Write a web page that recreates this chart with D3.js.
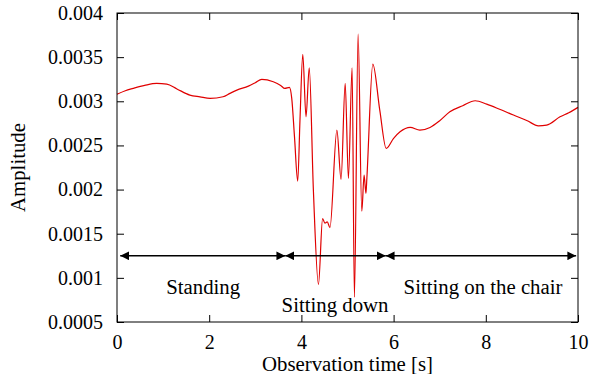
<!DOCTYPE html>
<html>
<head>
<meta charset="utf-8">
<script src="https://cdn.jsdelivr.net/npm/d3@7"></script>
<style>
  body { margin: 0; background: #fff; }
  svg { display: block; font-family: "Liberation Serif", "DejaVu Serif", serif; }
</style>
</head>
<body>
<div class="chart-box"></div>
<script>
// observation times [s] and amplitude
const times = [0, 0.18, 0.35, 0.6, 0.86, 1.08, 1.3, 1.58, 1.8, 2.02, 2.3, 2.45, 2.6, 2.85, 3.0, 3.14, 3.39, 3.55, 3.64, 3.74,
    3.79, 3.85, 3.92, 3.97, 4.03, 4.1, 4.17, 4.26, 4.37, 4.46, 4.51, 4.56, 4.62, 4.77, 4.86, 4.95, 5.02, 5.1, 5.15,
    5.23, 5.31, 5.36, 5.4, 5.42, 5.55, 5.7, 5.84, 6.0, 6.14, 6.36, 6.57, 6.79, 7.0, 7.22, 7.5, 7.77, 8.02, 8.3, 8.6,
    8.9, 9.14, 9.32, 9.61, 9.8, 10];
const amplitude = [0.00308, 0.00312, 0.003146, 0.00318, 0.003203, 0.003195, 0.00314, 0.00307, 0.00305, 0.003033, 0.003051, 0.00309, 0.003127, 0.003172, 0.00321, 0.003248, 0.003221, 0.00318, 0.003146, 0.003158,
    0.003036, 0.0026, 0.002095, 0.0028, 0.003532, 0.002824, 0.00338, 0.001993, 0.000927, 0.001672, 0.001619, 0.001634, 0.00157, 0.002673, 0.002114, 0.003203, 0.002126, 0.00338, 0.00078,
    0.003762, 0.001755, 0.002163, 0.001956, 0.002129, 0.003422, 0.0029, 0.002466, 0.00258, 0.002654, 0.002704, 0.002673, 0.002704, 0.00278, 0.002881, 0.00295, 0.003006, 0.002968, 0.00291, 0.002844,
    0.00278, 0.002722, 0.00273, 0.002824, 0.00287, 0.002931];

const xTicks = [0, 2, 4, 6, 8, 10];
const yTicks = [0.0005, 0.001, 0.0015, 0.002, 0.0025, 0.003, 0.0035, 0.004];

// phase arrows and their labels
const phaseBounds = [0.07, 3.65, 5.83, 9.96];
const arrowLevel = 0.00125;
const phaseLabels = ["Standing", "Sitting down", "Sitting on the chair"];
const labelX = [1.87, 4.73, 7.94];
const labelY = [0.0009, 0.0007, 0.0009];

const W = 589, H = 374;
const margin = { top: 13, right: 11, bottom: 52, left: 117 };
const width = W - margin.left - margin.right;
const height = H - margin.top - margin.bottom;

const svg = d3.select(".chart-box").append("svg")
    .attr("width", W)
    .attr("height", H);

const x = d3.scaleLinear().domain([0, 10]).range([0, width]);
const y = d3.scaleLinear().domain([0.0005, 0.004]).range([height, 0]);

const g = svg.append("g")
    .attr("transform", "translate(" + margin.left + "," + margin.top + ")");

// data line
const pts = times.map((t, i) => [t, amplitude[i]]);
g.append("path")
    .datum(pts)
    .attr("fill", "none")
    .attr("stroke", "#e00000")
    .attr("stroke-width", 1.2)
    .attr("stroke-linejoin", "round")
    .attr("d", d3.line().x(d => x(d[0])).y(d => y(d[1])).curve(d3.curveMonotoneX));

// axes with inward ticks, mirrored
const fmtY = d => String(+d.toFixed(4));
const styleAxis = sel => {
    sel.select(".domain").remove();
    sel.selectAll("line").attr("stroke", "#000");
    sel.selectAll("text").attr("font-size", "20px").attr("fill", "#000")
        .attr("font-family", "Liberation Serif, serif");
};
g.append("g")
    .attr("transform", "translate(0," + height + ")")
    .call(d3.axisBottom(x).tickValues(xTicks).tickSizeInner(-7).tickPadding(13))
    .call(styleAxis);
g.append("g")
    .call(d3.axisTop(x).tickValues(xTicks).tickSizeInner(-7).tickFormat(""))
    .call(styleAxis);
g.append("g")
    .call(d3.axisLeft(y).tickValues(yTicks).tickSizeInner(-7).tickPadding(14).tickFormat(fmtY))
    .call(styleAxis);
g.append("g")
    .attr("transform", "translate(" + width + ",0)")
    .call(d3.axisRight(y).tickValues(yTicks).tickSizeInner(-7).tickFormat(""))
    .call(styleAxis);

g.append("rect")
    .attr("width", width)
    .attr("height", height)
    .attr("fill", "none")
    .attr("stroke", "#000")
    .attr("stroke-width", 1);

// arrows
svg.append("defs").append("marker")
    .attr("id", "head")
    .attr("viewBox", "0 0 10 10")
    .attr("refX", 10)
    .attr("refY", 5)
    .attr("markerWidth", 5.5)
    .attr("markerHeight", 5.5)
    .attr("orient", "auto-start-reverse")
    .append("path")
    .attr("d", "M0,0L10,5L0,10z")
    .attr("fill", "#000");

g.selectAll(".phase")
    .data(d3.pairs(phaseBounds))
    .enter().append("line")
    .attr("class", "phase")
    .attr("x1", d => x(d[0]))
    .attr("x2", d => x(d[1]))
    .attr("y1", y(arrowLevel))
    .attr("y2", y(arrowLevel))
    .attr("stroke", "#000")
    .attr("stroke-width", 1.6)
    .attr("marker-start", "url(#head)")
    .attr("marker-end", "url(#head)");

g.selectAll(".plabel")
    .data(phaseLabels)
    .enter().append("text")
    .attr("class", "plabel")
    .attr("x", (d, i) => x(labelX[i]))
    .attr("y", (d, i) => y(labelY[i]))
    .attr("dy", "0.35em")
    .attr("text-anchor", "middle")
    .attr("font-size", "20.8px")
    .text(d => d);

// axis titles
svg.append("text")
    .attr("x", margin.left + width / 2)
    .attr("y", 371)
    .attr("text-anchor", "middle")
    .attr("font-size", "20.8px")
    .text("Observation time [s]");
svg.append("text")
    .attr("transform", "translate(25," + (margin.top + height / 2) + ") rotate(-90)")
    .attr("text-anchor", "middle")
    .attr("font-size", "20.8px")
    .text("Amplitude");
</script>
</body>
</html>
